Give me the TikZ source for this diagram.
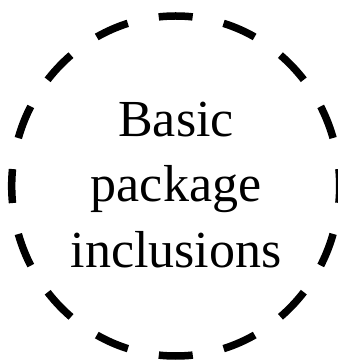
\documentclass[tikz,border=0pt]{standalone}
\usepackage{fontspec}
\setmainfont{Liberation Serif}
\begin{document}
\begin{tikzpicture}[x=1pt,y=1pt,
  ring/.style={draw=black, line width=7.5pt, dash pattern=on 34pt off 31.6pt, dash phase=17pt},
  label/.style={align=center, inner sep=0pt, font=\fontsize{52}{65.5}\selectfont}]
\useasboundingbox (0,0) rectangle (337,361);
\draw[ring] (175.7,175) ellipse [x radius=164, y radius=170];
\node[label] (t) at (176,176.2) {Basic\\package\\inclusions};
\end{tikzpicture}
\end{document}
